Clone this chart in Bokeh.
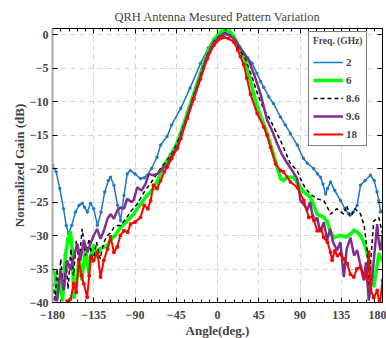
from bokeh.plotting import figure
from bokeh.models import (Range1d, LinearAxis, Legend, LegendItem, SingleIntervalTicker,
                          CustomJSTickFormatter)
from bokeh.embed import file_html
from bokeh.resources import INLINE

# ---------------- data ----------------
angles_2 = [-180, -176, -172, -168, -165, -162.5, -159, -155, -151, -147.6, -145, -142, -138.5, -135, -131,
            -127, -123, -119, -116.7, -113, -109, -105.8, -102, -98.5, -95, -90, -84, -80, -76.7, -72, -66,
            -62, -55, -50, -40, -30, -18.5, -10, -4, 0, 4, 8.7, 13, 18, 24, 28.4, 33, 37.8, 43, 47, 50.5,
            56, 61, 68.7, 74, 79.6, 87, 93.8, 98, 104.7, 109, 112.4, 115, 117.8, 120, 123.3, 128, 134.2,
            139, 143.2, 148, 152.4, 156, 161, 166.9, 171, 174, 176, 177.8, 180]
gain_2 = [-19.5, -20.5, -23, -26, -28.5, -29.7, -28.5, -26.5, -25.5, -25.2, -25.8, -26.5, -25.2, -26, -28.5,
          -26.5, -23.5, -21.8, -21.3, -22.5, -25.5, -27.8, -24, -20.8, -20.3, -20.8, -21.5, -21.4, -21, -20,
          -18.3, -16.5, -15.2, -13.5, -11, -8, -4.3, -2, -0.7, -0.1, 0.2, 0.3, 0, -0.7, -1.8, -2.8, -3.5,
          -4.3, -5.8, -7, -7.9, -9.3, -10.3, -12.3, -13.5, -14.8, -16.5, -18.5, -19.2, -20, -20.8, -21.3,
          -22.3, -23.8, -23, -22, -23.3, -24.8, -26, -26.8, -26.5, -25.5, -22.5, -21.8, -21, -21.8, -23.5,
          -24.8, -26.5, -26.3]

angles_6 = [-180, -177, -175, -172, -169, -166, -163, -160.4, -158.5, -156.8, -154, -151, -148, -144, -140.4,
            -138, -135, -131.3, -128, -124, -120, -116.7, -112, -105.8, -100, -94.9, -91.3, -85, -76.7, -70,
            -65.8, -58.5, -51.3, -47.7, -42, -40.4, -33, -25.8, -18.5, -11.2, -4, 3.3, 8, 13, 17.8, 24, 30.5,
            35, 39.6, 44, 48.7, 54.2, 59.7, 65.1, 68.7, 72, 76, 83, 88, 94, 101.5, 108.8, 116, 120, 123.3,
            126.9, 134.2, 140, 145, 149, 152.4, 156, 159.6, 163.3, 166.9, 170.5, 173, 176, 180]
gain_6 = [-35.2, -35.8, -39.3, -37, -39.6, -33, -30.5, -29.5, -32.2, -39.2, -37, -33.5, -36.5, -32.2, -35.5,
          -33, -31.5, -33.2, -32, -31.7, -31.5, -30.7, -30, -28.8, -28, -27.3, -26.8, -25.5, -24, -23, -22,
          -19.5, -18, -17.2, -15.5, -14.8, -11.8, -8.8, -5.8, -2.8, -0.8, 0.4, 0.75, 0.5, -0.3, -2, -3.9,
          -6.5, -8.9, -11, -12.8, -14.8, -17.3, -19.8, -21.5, -21.8, -21.3, -21.3, -22.3, -23.5, -24.3,
          -26.8, -27.3, -28, -29.5, -30.3, -30, -30.2, -29.8, -29.2, -29.5, -30, -31, -32.5, -34.7, -37.5,
          -35.5, -32.8, -33.7]

angles_86 = [-180, -177, -175, -173, -171, -168, -165, -163, -160, -157, -154, -151, -147.6, -144, -140, -136,
             -132, -128, -124, -120, -116, -113, -109, -105.8, -100, -94, -87.6, -80, -72, -62, -55, -47.7,
             -40.4, -33, -25.8, -18.5, -11.2, -4, 3.3, 8, 13, 18, 24, 30, 37.8, 44, 50, 57.8, 63, 68.7, 74,
             79.6, 87, 90.5, 96, 101.5, 108, 116, 120, 123.3, 130, 137.8, 141, 145, 150, 156, 160, 163.3, 165,
             167, 170.5, 176, 180]
gain_86 = [-37, -39.5, -35, -38, -33.5, -38, -34, -38, -32, -36, -30.8, -34, -29, -33, -30.5, -34, -31, -33.5,
           -31, -30, -29.5, -28.8, -28.5, -28.5, -27.5, -26.3, -25.3, -23.5, -22, -20, -18.8, -17.3, -15, -12,
           -9, -6, -3, -1, 0, 0.2, 0, -0.7, -2.3, -3.5, -6.4, -9, -11, -12.8, -14.3, -15.8, -17.5, -19.3, -20.3,
           -21.5, -23, -23.8, -24.5, -24.8, -25.8, -26.8, -26, -26.8, -25.5, -27.3, -26, -26.8, -28.5, -32.2,
           -38.2, -34, -27.8, -27.3, -29.7]

angles_96 = [-180, -178.5, -175, -171.3, -167.6, -164, -160.4, -156.8, -153, -149.5, -145.8, -142, -138.5, -135,
             -131.3, -127.6, -124, -120, -116.7, -113, -109.4, -105.8, -102, -98.5, -94, -91.3, -87.6, -83,
             -78.5, -74.9, -70, -65.8, -60, -54.9, -47.7, -44, -40.4, -33, -25.8, -18.5, -11.2, -4, 3.3, 8, 13,
             17.8, 24, 29, 34.2, 40, 47, 54.2, 60, 65.1, 70, 74.2, 80, 87, 90.5, 95, 97.8, 101, 105, 108.8, 112,
             116, 119.6, 123, 126, 130.5, 134, 137.8, 141, 145, 149, 152.4, 156, 159.6, 162, 165, 168.8, 171,
             174.2, 176, 177.8, 180]
gain_96 = [-39.5, -39.5, -39.7, -35.2, -38.2, -33.7, -35.2, -33.2, -31.2, -33.7, -30.7, -32.5, -31.2, -30, -29,
           -30.5, -29.3, -27.5, -26.8, -27.5, -26.3, -25.8, -26, -24.5, -25, -24.7, -22.8, -23.3, -22.3, -20.8,
           -21, -20.8, -20, -19.5, -17.6, -17, -15.3, -12.3, -9.3, -6.3, -3.3, -1.2, -0.2, 0.1, -0.1, -0.6,
           -1.8, -2.8, -3.9, -6, -8.9, -12.8, -14.5, -16.3, -17.8, -18.8, -20, -21.5, -24.8, -25.5, -26.3, -25,
           -28, -27.3, -29.5, -28, -30.7, -29, -31, -32.2, -31, -36.2, -32, -30.3, -33, -32.2, -34.5, -36.7,
           -34, -39.7, -36.2, -33, -28.3, -31, -32.2, -30]

angles_18 = [-180, -172, -166, -164, -160.4, -156.8, -154, -151.3, -148.5, -145.8, -142.2, -140, -138.5, -135,
             -131, -127.6, -124, -120, -116.7, -113, -109.4, -106, -102.2, -98, -94.9, -90, -84, -80, -76, -73,
             -70, -66, -62, -58, -55, -50, -44, -40, -33, -25.8, -18.5, -11.2, -4, 3.3, 7, 12, 17.8, 22, 25,
             28.7, 32, 36, 43.3, 50.5, 54, 57.8, 63.3, 68.7, 72, 79.6, 87, 94.2, 99.6, 104, 108.8, 113, 116,
             120, 123.3, 125, 128, 131, 134.2, 138, 141.5, 145, 148.7, 152, 156, 160, 163.3, 165, 166.9, 170.5,
             174.2, 177, 180]
gain_18 = [-42, -41, -40.5, -39.8, -39.5, -37.2, -38.5, -33.7, -36, -37.2, -39.2, -36, -33.2, -33.7, -32.5,
           -36.2, -33.7, -32, -30.2, -32.5, -31.7, -30, -29.3, -29.5, -28.3, -28, -27.3, -25.5, -26, -24.8,
           -22.5, -23, -21.8, -20.5, -19.8, -18.5, -17, -15.5, -12.5, -9.6, -6.6, -3.6, -1.6, -0.6, -0.4, -0.6,
           -1.1, -2.3, -3.3, -4.5, -6.5, -8.9, -11.8, -13.8, -15, -16.8, -19.3, -20.3, -20.5, -22, -22.8,
           -24.8, -27.3, -27.2, -29.3, -29, -30.3, -31, -32.5, -33.7, -32.3, -33, -32.7, -33.5, -34.2, -35.8,
           -36.2, -35, -34.7, -36, -36.5, -32.5, -38, -39.3, -38.2, -40.5, -36.7]

freq_labels = ["2", "6", "8.6", "9.6", "18"]
x_ticks_interval = 45
y_ticks_interval = 5

# ---------------- figure ----------------
SERIF = "Liberation Serif"

p = figure(frame_width=330, frame_height=274, output_backend="svg", toolbar_location=None,
           x_range=Range1d(-180, 180), y_range=Range1d(-40, 0.9),
           min_border_left=52, min_border_right=4, min_border_top=28, min_border_bottom=36,
           title="QRH Antenna Mesured Pattern Variation", background_fill_color="white",
           border_fill_color="white")

p.title.text_font = SERIF
p.title.text_font_style = "normal"
p.title.text_font_size = "12.5px"
p.title.align = "center"
p.title.offset = 0
p.title.standoff = 10

p.outline_line_color = "black"
p.outline_line_width = 1

xt = SingleIntervalTicker(interval=x_ticks_interval, num_minor_ticks=5)
yt = SingleIntervalTicker(interval=y_ticks_interval, num_minor_ticks=0)

for ax in p.xaxis:
    ax.ticker = xt
for ax in p.yaxis:
    ax.ticker = yt

p.xgrid.ticker = xt
p.ygrid.ticker = yt
for g in (p.xgrid, p.ygrid):
    g.grid_line_color = "#d4d4d4"
    g.grid_line_dash = "5 4"
    g.grid_line_width = 1

blank = CustomJSTickFormatter(code="return ''")

def style_axis(ax, labels=True):
    ax.major_tick_in = 5
    ax.major_tick_out = 0
    ax.minor_tick_in = 3
    ax.minor_tick_out = 0
    ax.major_tick_line_color = "black"
    ax.minor_tick_line_color = "black"
    ax.axis_line_color = "black"
    ax.major_label_text_font = SERIF
    ax.major_label_text_font_style = "bold"
    ax.major_label_text_font_size = "12px"
    if not labels:
        ax.formatter = blank
        ax.major_label_standoff = 0

xa = p.xaxis[0]
style_axis(xa)
xa.axis_label = "Angle(deg.)"
xa.axis_label_text_font = SERIF
xa.axis_label_text_font_style = "bold"
xa.axis_label_text_font_size = "13px"
xa.major_label_standoff = 8
xa.axis_label_standoff = 1

ya = p.yaxis[0]
style_axis(ya)
ya.minor_tick_line_color = None
ya.axis_line_color = "#a8a8a8"
ya.axis_line_width = 2
ya.axis_label = "Normalized Gain (dB)"
ya.axis_label_text_font = SERIF
ya.axis_label_text_font_style = "bold"
ya.axis_label_text_font_size = "13px"
ya.major_label_standoff = 4
ya.axis_label_standoff = 0

top = LinearAxis(ticker=xt)
style_axis(top, labels=False)
p.add_layout(top, "above")

right = LinearAxis(ticker=yt)
style_axis(right, labels=False)
right.minor_tick_line_color = None
p.add_layout(right, "right")

# ---------------- series ----------------
r2l = p.line(angles_2, gain_2, line_color="#1f77c0", line_width=1.5)
r2m = p.scatter(angles_2, gain_2, size=2.5, marker="circle", fill_color="#1f77c0", line_color="#1f77c0")

r6l = p.line(angles_6, gain_6, line_color="#00ff00", line_width=3.5)
r6m = p.scatter(angles_6, gain_6, size=3, marker="circle", fill_color="#00ff00", line_color="#00ff00")

r86l = p.line(angles_86, gain_86, line_color="black", line_width=1.5, line_dash="4 3")

r96l = p.line(angles_96, gain_96, line_color="#7e2f8e", line_width=2.5)

r18l = p.line(angles_18, gain_18, line_color="#ff0000", line_width=2)
r18m = p.scatter(angles_18, gain_18, size=2.5, marker="square", fill_color="#ff0000", line_color="#ff0000")

items = [
    LegendItem(label=freq_labels[0], renderers=[r2l]),
    LegendItem(label=freq_labels[1], renderers=[r6l]),
    LegendItem(label=freq_labels[2], renderers=[r86l]),
    LegendItem(label=freq_labels[3], renderers=[r96l]),
    LegendItem(label=freq_labels[4], renderers=[r18l]),
]
legend = Legend(items=items, location=(256, 156), title="Freq. (GHz)",
                title_text_font=SERIF, title_text_font_style="bold", title_text_font_size="9.5px",
                title_standoff=9,
                label_text_font=SERIF, label_text_font_style="bold", label_text_font_size="11px",
                glyph_width=30, glyph_height=14, label_height=14, label_width=16, label_standoff=3,
                spacing=4, padding=4, margin=0,
                border_line_color="black", border_line_width=1,
                background_fill_color="white", background_fill_alpha=1)
p.add_layout(legend, "center")

open("out.html", "w").write(file_html(p, INLINE))
